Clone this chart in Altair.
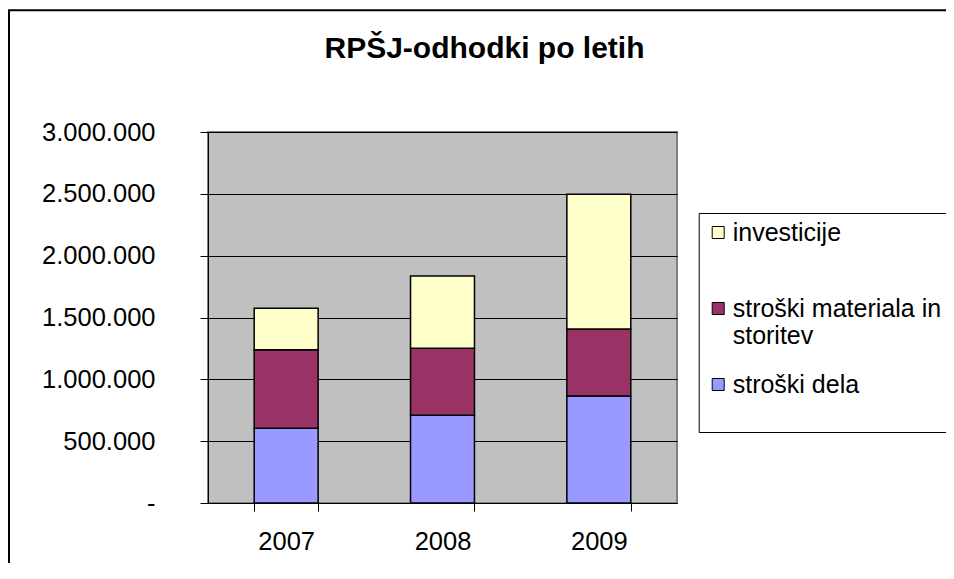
import altair as alt
import pandas as pd

years = ["2007", "2008", "2009"]
series = ["investicije", "stroški materiala in storitev", "stroški dela"]
stroski_dela = [604000, 709000, 865000]
stroski_materiala = [636000, 542000, 542000]
investicije = [334000, 585000, 1090000]
colors = ["#FFFFCC", "#993366", "#9999FF"]
y_ticks = [0, 500000, 1000000, 1500000, 2000000, 2500000, 3000000]

rows = []
for i, yr in enumerate(years):
    rows.append({"leto": yr, "serija": "stroški dela", "vrednost": stroski_dela[i], "red": 0})
    rows.append({"leto": yr, "serija": "stroški materiala in storitev", "vrednost": stroski_materiala[i], "red": 1})
    rows.append({"leto": yr, "serija": "investicije", "vrednost": investicije[i], "red": 2})
df = pd.DataFrame(rows)

FONT = "Liberation Sans"

legend_expr = (
    "datum.label == 'stroški materiala in storitev' ? ['stroški materiala in', 'storitev'] "
    ": [datum.label, ' ']"
)

bars = alt.Chart(df).mark_bar(stroke="black", strokeWidth=1.5).encode(
    x=alt.X(
        "leto:N",
        title=None,
        scale=alt.Scale(paddingInner=0.591, paddingOuter=0.2955),
        axis=alt.Axis(
            labelAngle=0, labelFontSize=25.5, labelFont=FONT, labelColor="black",
            labelPadding=18, tickSize=8, tickBand="extent", tickColor="black",
            domainColor="black", grid=False,
        ),
    ),
    y=alt.Y(
        "vrednost:Q",
        stack="zero",
        title=None,
        scale=alt.Scale(domain=[0, 3000000], nice=False),
        axis=alt.Axis(
            values=y_ticks,
            labelExpr="datum.value == 0 ? '-' : replace(replace(format(datum.value, ','), ',', '.'), ',', '.')",
            labelFontSize=25.5, labelFont=FONT, labelColor="black", labelPadding=45,
            tickSize=8, tickColor="black", domainColor="black",
            grid=True, gridColor="black", gridWidth=1,
        ),
    ),
    color=alt.Color(
        "serija:N",
        scale=alt.Scale(domain=series, range=colors),
        legend=alt.Legend(
            title=None, orient="none", legendX=490.7, legendY=81,
            symbolType="square", symbolSize=144, symbolStrokeColor="black", symbolStrokeWidth=1,
            labelFontSize=25, labelFont=FONT, labelColor="black", labelOffset=2, labelLimit=400,
            labelExpr=legend_expr,
            rowPadding=23, padding=7, strokeColor="black", fillColor="white",
        ),
    ),
    order=alt.Order("red:Q", sort="ascending"),
)

border = alt.Chart(pd.DataFrame({"k": [0]})).mark_rect(
    fillOpacity=0, stroke="black", strokeWidth=2
).encode(
    x=alt.value(-199), x2=alt.value(748), y=alt.value(-121.7), y2=alt.value(441)
)

chart = alt.layer(border, bars).properties(
    width=469,
    height=371,
    padding={"left": 200, "top": 124, "right": 269, "bottom": 60},
    autosize=alt.AutoSizeParams(type="none"),
    background="white",
    title=alt.Title(
        "RPŠJ-odhodki po letih", fontSize=30, fontWeight="bold", font=FONT, color="black",
        anchor="middle", dx=42, offset=0, dy=79, baseline="alphabetic",
    ),
).configure_view(
    fill="#C0C0C0", stroke="#808080", strokeWidth=2
)

chart.save("out.html", embed_options={"renderer": "svg", "actions": False})
